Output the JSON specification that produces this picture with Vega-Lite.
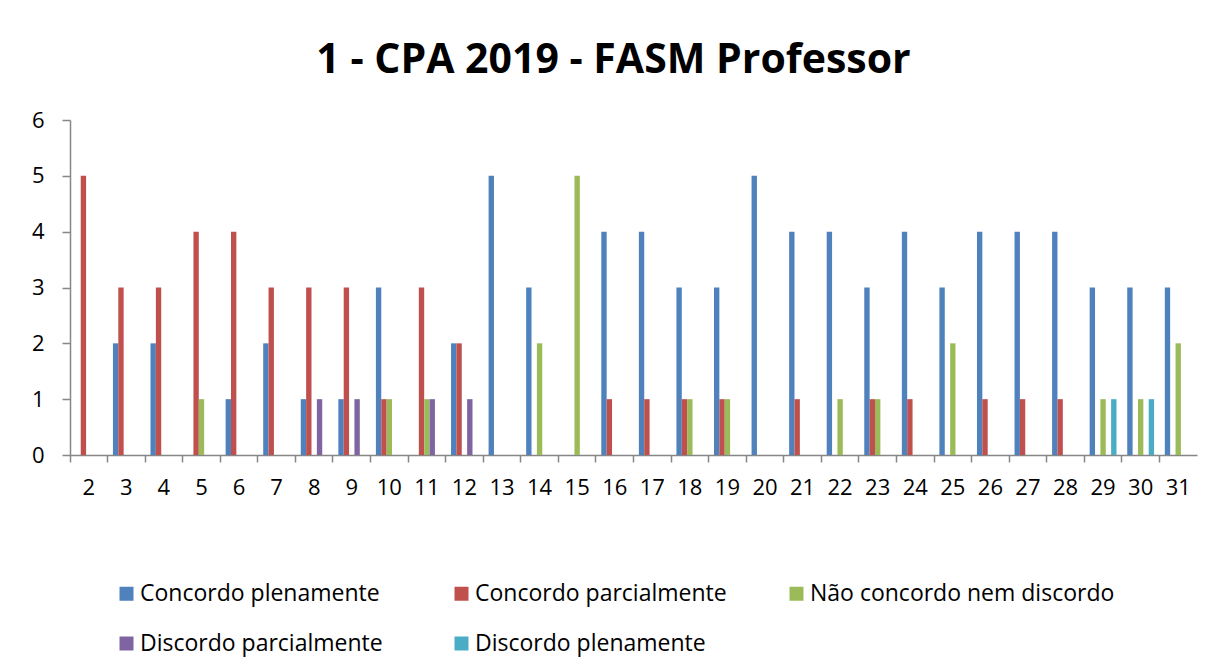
{
  "$schema": "https://vega.github.io/schema/vega-lite/v6.json",
  "width": 1127,
  "height": 335,
  "autosize": {"type": "none"},
  "padding": {"left": 70, "top": 120, "right": 8, "bottom": 216},
  "background": "white",
  "title": {
    "text": "1 - CPA 2019 - FASM Professor",
    "font": "Open Sans",
    "fontSize": 41,
    "fontWeight": "bold",
    "color": "#000000",
    "anchor": "middle",
    "frame": "group",
    "dx": -20,
    "offset": 27
  },
  "data": {
    "values": [
      {"q": 2, "s": "Concordo parcialmente", "v": 5},
      {"q": 3, "s": "Concordo plenamente", "v": 2},
      {"q": 3, "s": "Concordo parcialmente", "v": 3},
      {"q": 4, "s": "Concordo plenamente", "v": 2},
      {"q": 4, "s": "Concordo parcialmente", "v": 3},
      {"q": 5, "s": "Concordo parcialmente", "v": 4},
      {"q": 5, "s": "Não concordo nem discordo", "v": 1},
      {"q": 6, "s": "Concordo plenamente", "v": 1},
      {"q": 6, "s": "Concordo parcialmente", "v": 4},
      {"q": 7, "s": "Concordo plenamente", "v": 2},
      {"q": 7, "s": "Concordo parcialmente", "v": 3},
      {"q": 8, "s": "Concordo plenamente", "v": 1},
      {"q": 8, "s": "Concordo parcialmente", "v": 3},
      {"q": 8, "s": "Discordo parcialmente", "v": 1},
      {"q": 9, "s": "Concordo plenamente", "v": 1},
      {"q": 9, "s": "Concordo parcialmente", "v": 3},
      {"q": 9, "s": "Discordo parcialmente", "v": 1},
      {"q": 10, "s": "Concordo plenamente", "v": 3},
      {"q": 10, "s": "Concordo parcialmente", "v": 1},
      {"q": 10, "s": "Não concordo nem discordo", "v": 1},
      {"q": 11, "s": "Concordo parcialmente", "v": 3},
      {"q": 11, "s": "Não concordo nem discordo", "v": 1},
      {"q": 11, "s": "Discordo parcialmente", "v": 1},
      {"q": 12, "s": "Concordo plenamente", "v": 2},
      {"q": 12, "s": "Concordo parcialmente", "v": 2},
      {"q": 12, "s": "Discordo parcialmente", "v": 1},
      {"q": 13, "s": "Concordo plenamente", "v": 5},
      {"q": 14, "s": "Concordo plenamente", "v": 3},
      {"q": 14, "s": "Não concordo nem discordo", "v": 2},
      {"q": 15, "s": "Não concordo nem discordo", "v": 5},
      {"q": 16, "s": "Concordo plenamente", "v": 4},
      {"q": 16, "s": "Concordo parcialmente", "v": 1},
      {"q": 17, "s": "Concordo plenamente", "v": 4},
      {"q": 17, "s": "Concordo parcialmente", "v": 1},
      {"q": 18, "s": "Concordo plenamente", "v": 3},
      {"q": 18, "s": "Concordo parcialmente", "v": 1},
      {"q": 18, "s": "Não concordo nem discordo", "v": 1},
      {"q": 19, "s": "Concordo plenamente", "v": 3},
      {"q": 19, "s": "Concordo parcialmente", "v": 1},
      {"q": 19, "s": "Não concordo nem discordo", "v": 1},
      {"q": 20, "s": "Concordo plenamente", "v": 5},
      {"q": 21, "s": "Concordo plenamente", "v": 4},
      {"q": 21, "s": "Concordo parcialmente", "v": 1},
      {"q": 22, "s": "Concordo plenamente", "v": 4},
      {"q": 22, "s": "Não concordo nem discordo", "v": 1},
      {"q": 23, "s": "Concordo plenamente", "v": 3},
      {"q": 23, "s": "Concordo parcialmente", "v": 1},
      {"q": 23, "s": "Não concordo nem discordo", "v": 1},
      {"q": 24, "s": "Concordo plenamente", "v": 4},
      {"q": 24, "s": "Concordo parcialmente", "v": 1},
      {"q": 25, "s": "Concordo plenamente", "v": 3},
      {"q": 25, "s": "Não concordo nem discordo", "v": 2},
      {"q": 26, "s": "Concordo plenamente", "v": 4},
      {"q": 26, "s": "Concordo parcialmente", "v": 1},
      {"q": 27, "s": "Concordo plenamente", "v": 4},
      {"q": 27, "s": "Concordo parcialmente", "v": 1},
      {"q": 28, "s": "Concordo plenamente", "v": 4},
      {"q": 28, "s": "Concordo parcialmente", "v": 1},
      {"q": 29, "s": "Concordo plenamente", "v": 3},
      {"q": 29, "s": "Não concordo nem discordo", "v": 1},
      {"q": 29, "s": "Discordo plenamente", "v": 1},
      {"q": 30, "s": "Concordo plenamente", "v": 3},
      {"q": 30, "s": "Não concordo nem discordo", "v": 1},
      {"q": 30, "s": "Discordo plenamente", "v": 1},
      {"q": 31, "s": "Concordo plenamente", "v": 3},
      {"q": 31, "s": "Não concordo nem discordo", "v": 2}
    ]
  },
  "mark": {"type": "bar"},
  "encoding": {
    "x": {
      "field": "q",
      "type": "ordinal",
      "scale": {
        "domain": [2,3,4,5,6,7,8,9,10,11,12,13,14,15,16,17,18,19,20,21,22,23,24,25,26,27,28,29,30,31],
        "paddingInner": 0,
        "paddingOuter": 0
      },
      "axis": {
        "title": null,
        "labelAngle": 0,
        "labelFont": "Open Sans",
        "labelFontSize": 22,
        "labelColor": "#000000",
        "labelPadding": 15,
        "bandPosition": 0,
        "tickSize": 7,
        "tickColor": "#868686",
        "domainColor": "#868686",
        "tickWidth": 1.5,
        "domainWidth": 1.5,
        "grid": false
      }
    },
    "xOffset": {
      "field": "s",
      "type": "nominal",
      "scale": {
        "domain": ["Concordo plenamente", "Concordo parcialmente", "Não concordo nem discordo", "Discordo parcialmente", "Discordo plenamente"],
        "paddingInner": 0,
        "paddingOuter": 1.03
      }
    },
    "y": {
      "field": "v",
      "type": "quantitative",
      "scale": {"domain": [0, 6], "nice": false},
      "axis": {
        "title": null,
        "values": [0, 1, 2, 3, 4, 5, 6],
        "labelFont": "Open Sans",
        "labelFontSize": 22,
        "labelColor": "#000000",
        "labelPadding": 18,
        "tickSize": 8,
        "tickColor": "#868686",
        "domainColor": "#868686",
        "tickWidth": 1.5,
        "domainWidth": 1.5,
        "grid": false
      }
    },
    "color": {
      "field": "s",
      "type": "nominal",
      "scale": {
        "domain": ["Concordo plenamente", "Concordo parcialmente", "Não concordo nem discordo", "Discordo parcialmente", "Discordo plenamente"],
        "range": ["#4F81BD", "#C0504D", "#9BBB59", "#8064A2", "#4BACC6"]
      },
      "legend": {
        "title": null,
        "orient": "none",
        "legendX": 45,
        "legendY": 462,
        "direction": "horizontal",
        "columns": 3,
        "gridAlign": "all",
        "symbolType": "square",
        "symbolSize": 196,
        "symbolStrokeWidth": 0,
        "labelFont": "Open Sans",
        "labelFontSize": 23,
        "labelColor": "#000000",
        "labelOffset": 2,
        "labelLimit": 400,
        "columnPadding": 5,
        "rowPadding": 26,
        "padding": 0
      }
    }
  },
  "config": {
    "view": {"stroke": null}
  }
}
